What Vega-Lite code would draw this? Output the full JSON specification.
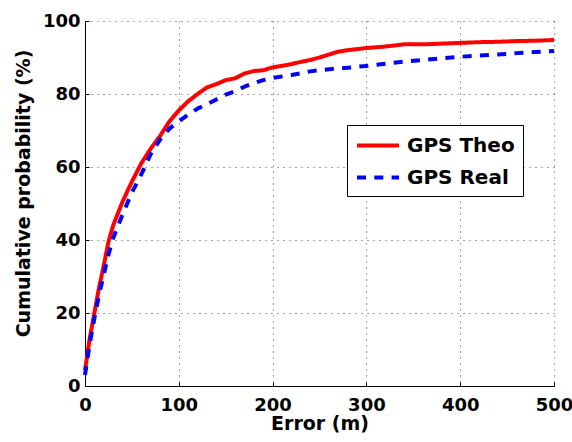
{
  "$schema": "https://vega.github.io/schema/vega-lite/v6.json",
  "width": 469,
  "height": 365,
  "autosize": "none",
  "padding": {"left": 85, "top": 21, "right": 18, "bottom": 56},
  "background": "white",
  "view": {"stroke": null},
  "config": {
    "font": "DejaVu Sans",
    "axis": {
      "labelFont": "DejaVu Sans",
      "labelFontSize": 18,
      "labelFontWeight": "bold",
      "labelColor": "black",
      "titleFont": "DejaVu Sans",
      "titleFontSize": 19,
      "titleFontWeight": "bold",
      "titleColor": "black",
      "domainColor": "black",
      "domainWidth": 1,
      "ticks": true,
      "tickSize": -4,
      "tickColor": "black",
      "tickWidth": 1,
      "gridColor": "black",
      "gridDash": [1, 5],
      "gridOpacity": 0.7,
      "gridWidth": 1
    },
    "legend": {
      "orient": "none",
      "legendX": 262,
      "legendY": 104,
      "strokeColor": "black",
      "fillColor": "white",
      "padding": 8,
      "symbolType": "M-1,0H3",
      "symbolSize": 441,
      "symbolStrokeWidth": 4,
      "labelFont": "DejaVu Sans",
      "labelFontSize": 20,
      "labelFontWeight": "bold",
      "labelColor": "black",
      "labelOffset": 27,
      "rowPadding": 9
    }
  },
  "data": {
    "values": [
      {"e": 0, "p": 4.3, "s": "GPS Theo"},
      {"e": 5, "p": 13, "s": "GPS Theo"},
      {"e": 10, "p": 20, "s": "GPS Theo"},
      {"e": 15, "p": 27, "s": "GPS Theo"},
      {"e": 20, "p": 33, "s": "GPS Theo"},
      {"e": 25, "p": 39.5, "s": "GPS Theo"},
      {"e": 30, "p": 44, "s": "GPS Theo"},
      {"e": 40, "p": 50.5, "s": "GPS Theo"},
      {"e": 50, "p": 56, "s": "GPS Theo"},
      {"e": 60, "p": 61, "s": "GPS Theo"},
      {"e": 70, "p": 65, "s": "GPS Theo"},
      {"e": 80, "p": 68.5, "s": "GPS Theo"},
      {"e": 90, "p": 72.5, "s": "GPS Theo"},
      {"e": 100, "p": 75.5, "s": "GPS Theo"},
      {"e": 110, "p": 78, "s": "GPS Theo"},
      {"e": 120, "p": 80, "s": "GPS Theo"},
      {"e": 130, "p": 81.8, "s": "GPS Theo"},
      {"e": 140, "p": 82.7, "s": "GPS Theo"},
      {"e": 150, "p": 83.8, "s": "GPS Theo"},
      {"e": 160, "p": 84.3, "s": "GPS Theo"},
      {"e": 170, "p": 85.6, "s": "GPS Theo"},
      {"e": 180, "p": 86.3, "s": "GPS Theo"},
      {"e": 190, "p": 86.5, "s": "GPS Theo"},
      {"e": 200, "p": 87.3, "s": "GPS Theo"},
      {"e": 210, "p": 87.7, "s": "GPS Theo"},
      {"e": 220, "p": 88.2, "s": "GPS Theo"},
      {"e": 230, "p": 88.8, "s": "GPS Theo"},
      {"e": 240, "p": 89.3, "s": "GPS Theo"},
      {"e": 250, "p": 90, "s": "GPS Theo"},
      {"e": 260, "p": 90.8, "s": "GPS Theo"},
      {"e": 270, "p": 91.6, "s": "GPS Theo"},
      {"e": 280, "p": 92, "s": "GPS Theo"},
      {"e": 300, "p": 92.6, "s": "GPS Theo"},
      {"e": 320, "p": 93, "s": "GPS Theo"},
      {"e": 340, "p": 93.6, "s": "GPS Theo"},
      {"e": 360, "p": 93.6, "s": "GPS Theo"},
      {"e": 380, "p": 93.8, "s": "GPS Theo"},
      {"e": 400, "p": 94, "s": "GPS Theo"},
      {"e": 420, "p": 94.2, "s": "GPS Theo"},
      {"e": 440, "p": 94.3, "s": "GPS Theo"},
      {"e": 460, "p": 94.5, "s": "GPS Theo"},
      {"e": 480, "p": 94.6, "s": "GPS Theo"},
      {"e": 500, "p": 94.8, "s": "GPS Theo"},
      {"e": 0, "p": 3, "s": "GPS Real"},
      {"e": 5, "p": 11.5, "s": "GPS Real"},
      {"e": 10, "p": 18.5, "s": "GPS Real"},
      {"e": 15, "p": 25, "s": "GPS Real"},
      {"e": 20, "p": 30.5, "s": "GPS Real"},
      {"e": 25, "p": 36, "s": "GPS Real"},
      {"e": 30, "p": 40.5, "s": "GPS Real"},
      {"e": 40, "p": 47, "s": "GPS Real"},
      {"e": 50, "p": 53, "s": "GPS Real"},
      {"e": 60, "p": 58, "s": "GPS Real"},
      {"e": 70, "p": 63.5, "s": "GPS Real"},
      {"e": 80, "p": 67.5, "s": "GPS Real"},
      {"e": 90, "p": 70.5, "s": "GPS Real"},
      {"e": 100, "p": 72.5, "s": "GPS Real"},
      {"e": 110, "p": 74.3, "s": "GPS Real"},
      {"e": 120, "p": 76, "s": "GPS Real"},
      {"e": 130, "p": 77.2, "s": "GPS Real"},
      {"e": 140, "p": 78.5, "s": "GPS Real"},
      {"e": 150, "p": 79.8, "s": "GPS Real"},
      {"e": 160, "p": 80.8, "s": "GPS Real"},
      {"e": 170, "p": 82, "s": "GPS Real"},
      {"e": 180, "p": 83, "s": "GPS Real"},
      {"e": 190, "p": 83.8, "s": "GPS Real"},
      {"e": 200, "p": 84.4, "s": "GPS Real"},
      {"e": 220, "p": 85.2, "s": "GPS Real"},
      {"e": 240, "p": 86.2, "s": "GPS Real"},
      {"e": 260, "p": 86.8, "s": "GPS Real"},
      {"e": 280, "p": 87.2, "s": "GPS Real"},
      {"e": 300, "p": 87.7, "s": "GPS Real"},
      {"e": 320, "p": 88.3, "s": "GPS Real"},
      {"e": 340, "p": 88.9, "s": "GPS Real"},
      {"e": 360, "p": 89.3, "s": "GPS Real"},
      {"e": 380, "p": 89.8, "s": "GPS Real"},
      {"e": 400, "p": 90.2, "s": "GPS Real"},
      {"e": 420, "p": 90.5, "s": "GPS Real"},
      {"e": 440, "p": 90.8, "s": "GPS Real"},
      {"e": 460, "p": 91.2, "s": "GPS Real"},
      {"e": 480, "p": 91.5, "s": "GPS Real"},
      {"e": 500, "p": 91.8, "s": "GPS Real"}
    ]
  },
  "mark": {"type": "line", "strokeWidth": 4, "strokeCap": "butt", "strokeJoin": "round"},
  "encoding": {
    "x": {
      "field": "e",
      "type": "quantitative",
      "scale": {"domain": [0, 500], "nice": false},
      "axis": {"title": "Error (m)", "values": [0, 100, 200, 300, 400, 500], "labelPadding": 14, "titlePadding": 0, "labelFlush": false}
    },
    "y": {
      "field": "p",
      "type": "quantitative",
      "scale": {"domain": [0, 100], "nice": false},
      "axis": {"title": "Cumulative probability (%)", "values": [0, 20, 40, 60, 80, 100], "labelPadding": 9, "titlePadding": 9, "titleY": 172}
    },
    "color": {
      "field": "s",
      "type": "nominal",
      "scale": {"domain": ["GPS Theo", "GPS Real"], "range": ["#ff0000", "#0000ff"]},
      "legend": {"title": null}
    },
    "strokeDash": {
      "field": "s",
      "type": "nominal",
      "scale": {"domain": ["GPS Theo", "GPS Real"], "range": [[1, 0], [9, 8.3]]},
      "legend": {"title": null}
    }
  }
}
